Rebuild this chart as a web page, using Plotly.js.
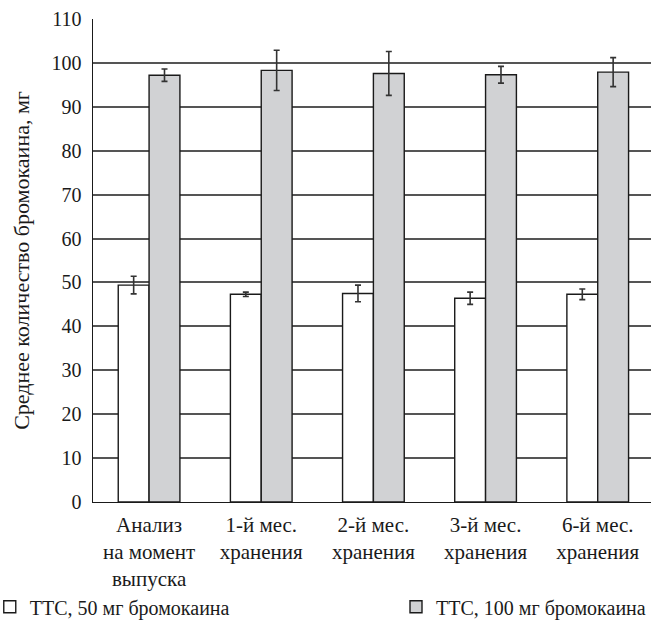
<!DOCTYPE html>
<html>
<head>
<meta charset="utf-8">
<script src="https://cdn.plot.ly/plotly-3.0.1.min.js"></script>
<style>html,body{margin:0;padding:0;background:#fff;}#chart{width:651px;height:633px;}</style>
</head>
<body>
<div id="chart"></div>
<script>
const categories = ["Анализ<br>на момент<br>выпуска", "1-й мес.<br>хранения", "2-й мес.<br>хранения", "3-й мес.<br>хранения", "6-й мес.<br>хранения"];
const series50 = [49.4, 47.3, 47.5, 46.4, 47.3];
const err50 = [2.0, 0.5, 1.9, 1.4, 1.2];
const series100 = [97.2, 98.3, 97.6, 97.3, 97.9];
const err100 = [1.4, 4.6, 5.0, 1.9, 3.3];
const yTicks = [0, 10, 20, 30, 40, 50, 60, 70, 80, 90, 100, 110];
const name50 = "ТТС, 50 мг бромокаина";
const name100 = "ТТС, 100 мг бромокаина";

const FONT = "Liberation Serif, Tinos, Times New Roman, serif";
const x = categories.map((c, i) => i);

const traces = [
  {
    type: "bar", name: name50, x: x, y: series50,
    marker: {color: "#ffffff", line: {color: "#1a1a1a", width: 1.4}},
    error_y: {type: "data", array: err50, visible: true, color: "#333333", thickness: 1.6, width: 3},
    legend: "legend"
  },
  {
    type: "bar", name: name100, x: x, y: series100,
    marker: {color: "#d1d2d4", line: {color: "#1a1a1a", width: 1.4}},
    error_y: {type: "data", array: err100, visible: true, color: "#333333", thickness: 1.6, width: 3},
    legend: "legend2"
  }
];

const layout = {
  width: 651, height: 633,
  margin: {l: 93, r: 0, t: 19, b: 131, autoexpand: false},
  paper_bgcolor: "#ffffff", plot_bgcolor: "#ffffff",
  font: {family: FONT, size: 20, color: "#1a1a1a"},
  barmode: "group", bargap: 0.45, bargroupgap: 0,
  xaxis: {
    type: "linear",
    range: [-0.5, 4.475],
    tickmode: "array", tickvals: x, ticktext: categories,
    showgrid: false, zeroline: false,
    showline: true, linecolor: "#1a1a1a", linewidth: 1.4,
    ticks: "", tickfont: {family: FONT, size: 21, color: "#1a1a1a"},
    ticklabelstandoff: 3, automargin: false
  },
  yaxis: {
    range: [0, 110],
    tickmode: "array", tickvals: yTicks,
    showgrid: true, gridcolor: "#555555", gridwidth: 2,
    zeroline: false,
    showline: true, linecolor: "#1a1a1a", linewidth: 1.4,
    ticks: "", ticklabelstandoff: 6, automargin: false,
    tickfont: {family: FONT, size: 20, color: "#1a1a1a"},
    title: {text: "Среднее количество бромокаина, мг", font: {family: FONT, size: 22, color: "#1a1a1a"}, standoff: 16}
  },
  showlegend: true,
  legend: {
    x: -0.185, y: -0.217, xanchor: "left", yanchor: "middle",
    orientation: "h", bgcolor: "rgba(0,0,0,0)",
    font: {family: FONT, size: 20, color: "#1a1a1a"}, itemwidth: 30
  },
  legend2: {
    x: 1.0, y: -0.217, xanchor: "right", yanchor: "middle",
    orientation: "h", bgcolor: "rgba(0,0,0,0)",
    font: {family: FONT, size: 20, color: "#1a1a1a"}, itemwidth: 30
  }
};

Plotly.newPlot("chart", traces, layout, {displayModeBar: false, staticPlot: true});
</script>
</body>
</html>
